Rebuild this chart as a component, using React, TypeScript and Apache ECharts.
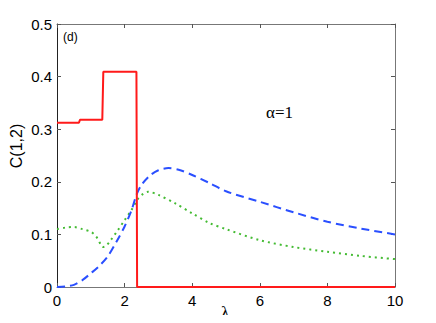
import React, { useEffect, useRef } from "react";
import * as echarts from "echarts";

const xTicks = [0, 2, 4, 6, 8, 10];
const yTicks = [0, 0.1, 0.2, 0.3, 0.4, 0.5];

const redX = [0, 0.65, 0.68, 1.34, 1.37, 2.35, 2.37, 10];
const redY = [0.3125, 0.3125, 0.318, 0.318, 0.409, 0.409, 0, 0];

const blueX = [0, 0.25, 0.5, 0.75, 1, 1.25, 1.5, 1.75, 2, 2.2, 2.35, 2.5, 2.75, 3, 3.3, 3.6, 4, 4.5, 5, 6, 7, 8, 9, 10];
const blueY = [0, 0.001, 0.004, 0.013, 0.026, 0.04, 0.058, 0.085, 0.115, 0.145, 0.175, 0.194, 0.212, 0.222, 0.226, 0.223, 0.213, 0.198, 0.182, 0.162, 0.142, 0.124, 0.111, 0.1];

const greenX = [0, 0.25, 0.5, 0.75, 1, 1.1, 1.2, 1.3, 1.35, 1.45, 1.6, 1.8, 2, 2.2, 2.4, 2.55, 2.7, 3, 3.5, 4, 4.5, 5, 6, 7, 8, 9, 10];
const greenY = [0.11, 0.113, 0.114, 0.11, 0.105, 0.1, 0.092, 0.08, 0.076, 0.078, 0.09, 0.108, 0.127, 0.146, 0.168, 0.177, 0.181, 0.175, 0.159, 0.14, 0.122, 0.11, 0.089, 0.076, 0.067, 0.059, 0.053];

const zip = (xs: number[], ys: number[]) => xs.map((x, i) => [x, ys[i]]);

export default function App() {
  const ref = useRef<HTMLDivElement>(null);
  useEffect(() => {
    const chart = echarts.init(ref.current!, undefined, { renderer: "svg" });
    const tickStyle = { show: true, inside: true, length: 4, lineStyle: { color: "#555", width: 1 } };
    const lbl = { fontFamily: "Liberation Sans, Arial", fontSize: 15, color: "#000" };
    chart.setOption({
      animation: false,
      backgroundColor: "#fff",
      grid: { left: 57, right: 41, top: 24, bottom: 36, show: false },
      xAxis: [
        {
          type: "value", min: 0, max: 10, interval: 2,
          axisLine: { show: true, onZero: false, lineStyle: { color: "#777", width: 1 } },
          axisTick: tickStyle, splitLine: { show: false },
          axisLabel: { ...lbl, margin: 6, formatter: (v: number) => (xTicks.includes(v) ? String(v) : "") },
        },
        {
          type: "value", position: "top", min: 0, max: 10, interval: 2,
          axisLine: { show: true, onZero: false, lineStyle: { color: "#777", width: 1 } },
          axisTick: tickStyle, axisLabel: { show: false }, splitLine: { show: false },
        },
      ],
      yAxis: [
        {
          type: "value", min: 0, max: 0.5, interval: 0.1,
          axisLine: { show: true, onZero: false, lineStyle: { color: "#222", width: 1 } },
          axisTick: tickStyle, splitLine: { show: false },
          axisLabel: { ...lbl, margin: 5, formatter: (v: number) => { const t = yTicks.find((y) => Math.abs(y - v) < 1e-9); return t === undefined ? "" : String(t); } },
        },
        {
          type: "value", position: "right", min: 0, max: 0.5, interval: 0.1,
          axisLine: { show: true, onZero: false, lineStyle: { color: "#777", width: 1 } },
          axisTick: tickStyle, axisLabel: { show: false }, splitLine: { show: false },
        },
      ],
      series: [
        {
          type: "line", data: zip(greenX, greenY), showSymbol: false, smooth: 0.3,
          lineStyle: { color: "#44bb33", width: 2, type: [2, 4] },
        },
        {
          type: "line", data: zip(blueX, blueY), showSymbol: false, smooth: 0.3,
          lineStyle: { color: "#2a4fff", width: 2, type: [8, 5] },
        },
        {
          type: "line", data: zip(redX, redY), showSymbol: false,
          lineStyle: { color: "#ff1a1a", width: 2 },
        },
      ],
      graphic: [
        { type: "text", left: 63, top: 31, style: { text: "(d)", fontFamily: "Liberation Sans, Arial", fontSize: 12, fill: "#000" } },
        { type: "text", left: 266, top: 104, style: { text: "α=1", fontFamily: "Liberation Serif, Times New Roman", fontSize: 17, fill: "#000" } },
        { type: "text", left: 221, top: 304, style: { text: "λ", fontFamily: "Liberation Serif, Times New Roman", fontSize: 17, fill: "#000" } },
        { type: "text", x: 16, y: 146, rotation: Math.PI / 2, style: { text: "C(1,2)", fontFamily: "Liberation Sans, Arial", fontSize: 16, fill: "#000", align: "center", verticalAlign: "middle" } },
      ],
    });
    return () => chart.dispose();
  }, []);
  return <div ref={ref} style={{ width: 436, height: 323, margin: -8 }} />;
}
